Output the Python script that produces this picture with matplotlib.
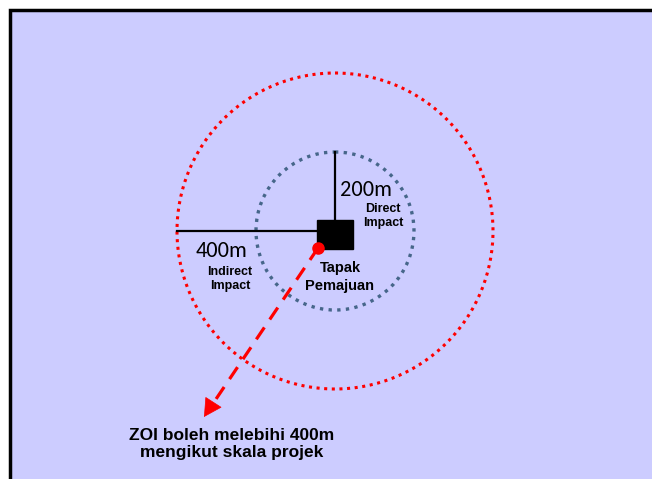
import matplotlib
matplotlib.use("Agg")
import matplotlib.pyplot as plt
from matplotlib.patches import Circle, Rectangle

# Data
center = (335, 231)
radii_px = [158, 79]          # outer (400m) and inner (200m) zone radii in pixels
zone_labels = ["400m", "200m"]
zone_sub = ["Indirect\nImpact", "Direct\nImpact"]
site_label = "Tapak\nPemajuan"
note = "ZOI boleh melebihi 400m\nmengikut skala projek"

fig = plt.figure(figsize=(6.52, 4.79), dpi=100)
ax = fig.add_axes([0, 0, 1, 1])
ax.set_xlim(0, 652)
ax.set_ylim(479, 0)
ax.axis("off")

# Background panel
ax.add_patch(Rectangle((10, 10), 700, 520, facecolor="#CCCCFF", edgecolor="black", lw=2.5, zorder=0))

cx, cy = center
# Circles
ax.add_patch(Circle(center, radii_px[0], fill=False, edgecolor="#FF0000", lw=2.2,
                    linestyle=(0, (1, 1.5)), zorder=2))
ax.add_patch(Circle(center, radii_px[1], fill=False, edgecolor="#46668A", lw=2.4,
                    linestyle=(0, (1, 1.6)), zorder=2))

# Radius lines
ax.plot([cx - radii_px[0], 318], [cy, cy], color="black", lw=1.6, zorder=3)
ax.plot([cx, cx], [cy - radii_px[1], 221], color="black", lw=1.6, zorder=3)

# Site square
ax.add_patch(Rectangle((317, 220), 36, 29, facecolor="black", edgecolor="black", lw=1, zorder=4))

# Red dashed arrow
ax.plot([318, 212], [248, 405], color="#FF0000", lw=2.3, linestyle=(0, (4.5, 3.0)), zorder=5)
ax.annotate("", xy=(204, 417), xytext=(213, 403),
            arrowprops=dict(arrowstyle="-|>,head_length=1.2,head_width=0.65", color="#FF0000",
                            lw=0.5, shrinkA=0, shrinkB=0), zorder=5)
ax.plot([318], [248], marker="o", color="#FF0000", markersize=8, zorder=6)

# Labels
reg = ["Carlito", "Open Sans", "DejaVu Sans"]
narrow = ["Liberation Sans Narrow", "Liberation Sans", "DejaVu Sans"]
ax.text(340, 190, zone_labels[1], fontsize=16, family=reg, ha="left", va="center", zorder=7)
ax.text(383, 216, zone_sub[1], fontsize=9, family=narrow, fontweight="bold", ha="center", va="center",
        linespacing=1.2, zorder=7)
ax.text(196, 251, zone_labels[0], fontsize=16, family=reg, ha="left", va="center", zorder=7)
ax.text(230, 279, zone_sub[0], fontsize=9, family=narrow, fontweight="bold", ha="center", va="center",
        linespacing=1.2, zorder=7)
ax.text(340, 277, site_label, fontsize=10.5, family=["Liberation Sans", "DejaVu Sans"], fontweight="bold",
        ha="center", va="center", linespacing=1.45, zorder=7)
ax.text(232, 444, note, fontsize=12.5, family=["Liberation Sans", "DejaVu Sans"], fontweight="bold",
        ha="center", va="center", linespacing=1.1, zorder=7)

fig.savefig("out.png", dpi=100)
